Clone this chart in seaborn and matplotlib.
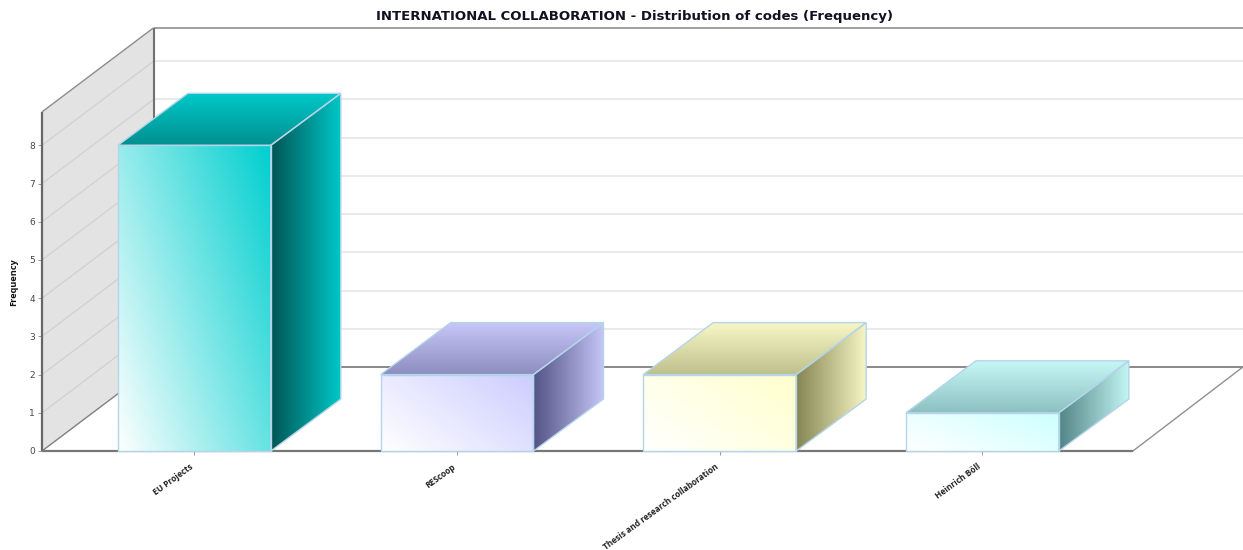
import numpy as np
import pandas as pd
import matplotlib
matplotlib.use("Agg")
import matplotlib.pyplot as plt
from matplotlib.colors import to_rgb
from matplotlib.patches import Polygon
import seaborn as sns

# Chart data
codes = ["EU Projects", "REScoop", "Thesis and research collaboration", "Heinrich Böll"]
frequency = [8, 2, 2, 1]
bar_colors = ["#00cfcf", "#ccccff", "#ffffcc", "#ccffff"]
y_ticks = [0, 1, 2, 3, 4, 5, 6, 7, 8]

# Pseudo-3D geometry in data units
WALL_TOP = 8.874
X_LEFT = -0.58
X_FRONT_RIGHT = 3.573
X_RIGHT = 3.992
Y_TOP = 11.07
ROOM_DX, ROOM_DY = 0.4245, 2.2
BAR_DX, BAR_DY = 0.2665, 1.36
BAR_WIDTH = 0.582
EDGE = "#b4d4ea"

sns.set_theme(style="white")
plt.rcParams["font.family"] = ["DejaVu Sans"]

fig = plt.figure(figsize=(12.43, 5.5), dpi=100)
ax = fig.add_axes([42 / 1243, 99 / 550, 1201 / 1243, 423 / 550])

df = pd.DataFrame({"code": codes, "frequency": frequency})
sns.barplot(data=df, x="code", y="frequency", hue="code", palette=bar_colors,
            width=BAR_WIDTH, legend=False, ax=ax)


def gradient_face(verts, rgb_from, rgb_to, mode, z):
    """Fill a polygon with a linear gradient and outline it."""
    verts = np.asarray(verts)
    x0, x1 = verts[:, 0].min(), verts[:, 0].max()
    y0, y1 = verts[:, 1].min(), verts[:, 1].max()
    u, v = np.meshgrid(np.linspace(0, 1, 256), np.linspace(0, 1, 256))
    t = {"h": u, "v": v, "d": 0.6 * u + 0.4 * v}[mode][..., None]
    img = np.array(rgb_from) * (1 - t) + np.array(rgb_to) * t
    im = ax.imshow(img, origin="lower", extent=(x0, x1, y0, y1), aspect="auto",
                   zorder=z, interpolation="bilinear")
    outline = Polygon(verts, closed=True, facecolor="none", edgecolor=EDGE,
                      linewidth=1.0, zorder=z + 0.1, clip_on=False)
    ax.add_patch(outline)
    im.set_clip_path(outline)


def room_line(xs, ys, color, lw, z=1.3):
    ax.plot(xs, ys, color=color, lw=lw, zorder=z, clip_on=False, solid_capstyle="butt")


# Room: side wall, floor edges and back-wall grid
ax.add_patch(Polygon([(X_LEFT, 0), (X_LEFT + ROOM_DX, ROOM_DY),
                      (X_LEFT + ROOM_DX, ROOM_DY + WALL_TOP), (X_LEFT, WALL_TOP)],
                     closed=True, facecolor="#e3e3e3", edgecolor="none", zorder=1))
for v in y_ticks[1:]:
    room_line([X_LEFT, X_LEFT + ROOM_DX], [v, v + ROOM_DY], "#d2d2d2", 1, 1.2)
    room_line([X_LEFT + ROOM_DX, X_RIGHT], [v + ROOM_DY] * 2, "#e6e6e6", 1.2, 1.2)
room_line([X_LEFT + ROOM_DX, X_RIGHT], [ROOM_DY] * 2, "#808080", 1.3)
room_line([X_LEFT + ROOM_DX, X_RIGHT], [ROOM_DY + WALL_TOP] * 2, "#969696", 1.3)
room_line([X_LEFT, X_LEFT + ROOM_DX], [WALL_TOP, WALL_TOP + ROOM_DY], "#8c8c8c", 1)
room_line([X_LEFT, X_LEFT + ROOM_DX], [0, ROOM_DY], "#808080", 1)
room_line([X_FRONT_RIGHT, X_RIGHT], [0, ROOM_DY], "#909090", 1)
room_line([X_LEFT + ROOM_DX] * 2, [ROOM_DY, ROOM_DY + WALL_TOP], "#707070", 1.5)
room_line([X_LEFT] * 2, [0, WALL_TOP], "#666666", 1.6)
room_line([X_LEFT, X_FRONT_RIGHT], [0, 0], "#777777", 1.6)

# Turn each seaborn bar into a shaded box
for i, (bar, color) in enumerate(zip(ax.patches[:len(codes)], bar_colors)):
    rgb = np.array(to_rgb(color))
    x0, w, h = bar.get_x(), bar.get_width(), bar.get_height()
    x1 = x0 + w
    z = 3 + i
    bar.set_facecolor("none")
    bar.set_edgecolor("none")
    gradient_face([(x0, 0), (x1, 0), (x1, h), (x0, h)], (1, 1, 1), rgb, "d", z)
    gradient_face([(x1, 0), (x1 + BAR_DX, BAR_DY), (x1 + BAR_DX, h + BAR_DY), (x1, h)],
                  np.clip(rgb - 0.48, 0, 1), rgb * 0.97, "h", z)
    gradient_face([(x0, h), (x1, h), (x1 + BAR_DX, h + BAR_DY), (x0 + BAR_DX, h + BAR_DY)],
                  np.clip(rgb - 0.25, 0, 1), rgb * 0.97, "v", z)

ax.set_xlim(X_LEFT, X_RIGHT)
ax.set_ylim(0, Y_TOP)
sns.despine(ax=ax, left=True, bottom=True, top=True, right=True)
ax.set_xlabel("")
ax.set_ylabel("")
ax.set_yticks(y_ticks)
ax.set_xticks(range(len(codes)))
ax.set_xticklabels([])
ax.tick_params(axis="y", left=True, length=3, width=0.7, color="#999999",
               labelsize=6.5, labelcolor="#44445a", pad=2)
ax.tick_params(axis="x", bottom=True, length=3, width=0.7, color="#999999")

# Slanted category labels, ending just left of their ticks
for i, code in enumerate(codes):
    ax.annotate(code, xy=(i, 0), xycoords="data", xytext=(-3.6, -8), textcoords="offset points",
                rotation=36, ha="right", va="top", rotation_mode="anchor", annotation_clip=False,
                fontsize=6.0, fontweight="bold", family="Open Sans", color="#222222")

fig.text(635 / 1243, 1 - 16.5 / 550, "INTERNATIONAL COLLABORATION - Distribution of codes (Frequency)",
         ha="center", va="center", fontsize=9.5, fontweight="bold", color="#111122")
fig.text(14 / 1243, 1 - 282 / 550, "Frequency", rotation=90, ha="center", va="center",
         fontsize=6.6, fontweight="bold", family="Open Sans", color="#111111")

fig.savefig("out.png", dpi=100, facecolor="white")
